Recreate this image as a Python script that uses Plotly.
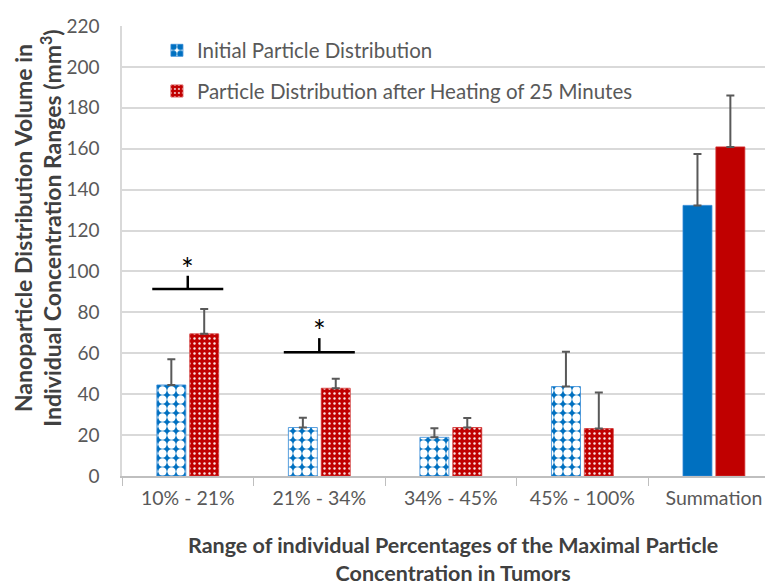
import plotly.graph_objects as go

categories = ["10% - 21%", "21% - 34%", "34% - 45%", "45% - 100%", "Summation"]
initial_vals = [44.5, 23.7, 18.9, 43.7, 132.3]
initial_err = [12.6, 4.8, 4.4, 17.0, 25.1]
heated_vals = [69.5, 42.9, 23.7, 23.2, 160.9]
heated_err = [12.1, 4.7, 4.7, 17.6, 25.1]
series_names = ["Initial Particle Distribution", "Particle Distribution after Heating of 25 Minutes"]
y_ticks = list(range(0, 221, 20))

# significance brackets: category index, bracket level, stem top
sig_cats = [0, 1]
sig_levels = [91.4, 60.5]
sig_stems = [97.9, 67.4]

BLUE = "#0070C0"
RED = "#C00000"
GREY = "#595959"
FONT = "Lato"

n_pat = len(categories) - 1

fig = go.Figure()

blue_pattern = dict(shape=["."] * n_pat + [""], fgcolor=BLUE, bgcolor="white", size=9,
                    solidity=0.68, fgopacity=1)
red_pattern = dict(shape=["."] * n_pat + [""], fgcolor="white", bgcolor=RED, size=5,
                   solidity=0.18, fgopacity=0.9)

fig.add_trace(go.Bar(
    x=categories, y=initial_vals, name=series_names[0], legendgroup="a",
    marker=dict(color=[BLUE] * len(categories), pattern=blue_pattern,
                line=dict(color="#2E86D6", width=0.8)),
    error_y=dict(type="data", array=initial_err, symmetric=False, arrayminus=[0] * len(categories),
                 color=GREY, thickness=2, width=4),
))
fig.add_trace(go.Bar(
    x=categories, y=heated_vals, name=series_names[1], legendgroup="b",
    marker=dict(color=[RED] * len(categories), pattern=red_pattern,
                line=dict(color="#D03030", width=0.8)),
    error_y=dict(type="data", array=heated_err, symmetric=False, arrayminus=[0] * len(categories),
                 color=GREY, thickness=2, width=4),
))

shapes = []
annotations = []
for ci, lvl, stem in zip(sig_cats, sig_levels, sig_stems):
    shapes.append(dict(type="line", xref="x", yref="y", x0=ci - 0.27, x1=ci + 0.27, y0=lvl, y1=lvl,
                       line=dict(color="black", width=2.5)))
    shapes.append(dict(type="line", xref="x", yref="y", x0=ci, x1=ci, y0=lvl, y1=stem,
                       line=dict(color="black", width=2.5)))
    annotations.append(dict(x=ci, y=stem, xref="x", yref="y", text="*", showarrow=False,
                            yanchor="middle", font=dict(size=30, color="black", family=FONT), yshift=8))

annotations.append(dict(
    text="<b>Nanoparticle Distribution Volume in<br>Individual Concentration Ranges (mm<sup>3</sup>)</b>",
    xref="paper", yref="paper", x=-0.128, y=0.551, textangle=-90, showarrow=False,
    xanchor="center", yanchor="middle", font=dict(size=23, color="#404040", family=FONT)))
annotations.append(dict(
    text="<b>Range of individual Percentages of the Maximal Particle<br>Concentration in Tumors</b>",
    xref="paper", yref="paper", x=0.502, y=-0.184, showarrow=False,
    xanchor="center", yanchor="middle", font=dict(size=21.5, color="#404040", family=FONT)))

fig.update_layout(
    width=773, height=585,
    margin=dict(l=114, r=0, t=18, b=117),
    paper_bgcolor="white", plot_bgcolor="white",
    barmode="group", bargap=0.5, bargroupgap=0.12,
    font=dict(family=FONT, color=GREY, size=19),
    shapes=shapes, annotations=annotations,
    legend=dict(x=0.053, y=0.99, xanchor="left", yanchor="top", bgcolor="rgba(0,0,0,0)",
                font=dict(size=20.5, color=GREY, family=FONT), tracegroupgap=11,
                traceorder="grouped"),
    showlegend=True,
)
fig.update_xaxes(range=[-0.5, 4.51], showgrid=False, showline=True, linecolor="#BFBFBF", linewidth=1.5,
                 ticks="outside", tickson="boundaries", ticklen=8, tickcolor="#BFBFBF",
                 ticklabelstandoff=4,
                 tickfont=dict(size=19.5, color=GREY, family=FONT))
fig.update_yaxes(range=[0, 220], tickvals=y_ticks, showgrid=True, gridcolor="#D9D9D9", gridwidth=1.5,
                 showline=True, linecolor="#D9D9D9", linewidth=1.5, zeroline=False,
                 ticks="", ticklabelstandoff=17, tickfont=dict(size=19, color=GREY, family=FONT))

fig.write_html("out.html")
